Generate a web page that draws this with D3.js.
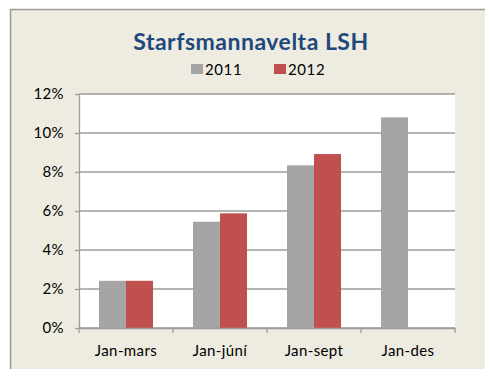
<!DOCTYPE html>
<html>
<head>
<meta charset="utf-8">
<script src="https://cdn.jsdelivr.net/npm/d3@7"></script>
<style>
  html, body { margin: 0; padding: 0; background: #ffffff; }
  svg { display: block; }
</style>
</head>
<body>
<script>
// Staff turnover at LSH, cumulative by period
const categories = ["Jan-mars", "Jan-júní", "Jan-sept", "Jan-des"];
const seriesNames = ["2011", "2012"];
const values2011 = [0.0242, 0.0545, 0.0834, 0.108];
const values2012 = [0.0242, 0.0588, 0.0892, null];
const yTicks = [0, 0.02, 0.04, 0.06, 0.08, 0.10, 0.12];
const colors = ["#a5a5a5", "#c0504d"];

const W = 485, H = 369;
const margin = { left: 79, right: 30, top: 94, bottom: 41 };
const font = "Lato, 'Open Sans', sans-serif";

const svg = d3.select("body").append("svg")
  .attr("width", W).attr("height", H);

// chart frame
svg.append("rect")
  .attr("x", 10.5).attr("y", 9.5)
  .attr("width", W + 10).attr("height", H + 10)
  .attr("fill", "#eeebe1").attr("stroke", "#9a9a9a").attr("stroke-width", 1.5);

const x0 = d3.scaleBand().domain(categories)
  .range([margin.left, W - margin.right]);
const x1 = d3.scaleBand().domain(seriesNames)
  .range([0, x0.bandwidth()]).paddingOuter(0.74).paddingInner(0);
const y = d3.scaleLinear().domain([0, 0.12])
  .range([H - margin.bottom, margin.top]);

// plot area
svg.append("rect")
  .attr("x", margin.left).attr("y", margin.top)
  .attr("width", W - margin.right - margin.left)
  .attr("height", H - margin.bottom - margin.top)
  .attr("fill", "#ffffff");

// gridlines
svg.append("g").selectAll("line").data(yTicks).join("line")
  .attr("x1", margin.left).attr("x2", W - margin.right)
  .attr("y1", d => y(d)).attr("y2", d => y(d))
  .attr("stroke", "#9c9c9c").attr("stroke-width", 1.3);

// bars
const data = categories.map((c, i) => ({ cat: c, vals: [values2011[i], values2012[i]] }));
const groups = svg.append("g").selectAll("g").data(data).join("g")
  .attr("transform", d => `translate(${x0(d.cat)},0)`);
groups.selectAll("rect")
  .data(d => d.vals.map((v, j) => ({ name: seriesNames[j], v, j })).filter(e => e.v != null))
  .join("rect")
  .attr("x", d => x1(d.name))
  .attr("width", x1.bandwidth())
  .attr("y", d => y(d.v))
  .attr("height", d => y(0) - y(d.v))
  .attr("fill", d => colors[d.j]);

// y axis
const yAxis = d3.axisLeft(y).tickValues(yTicks)
  .tickFormat(d3.format(".0%")).tickSize(4).tickSizeOuter(0);
const gy = svg.append("g").attr("transform", `translate(${margin.left},0)`).call(yAxis);
gy.select(".domain").attr("stroke", "#9c9c9c").attr("stroke-width", 1.3);
gy.selectAll(".tick line").attr("stroke", "#9c9c9c").attr("stroke-width", 1.3);
gy.selectAll("text").attr("x", -15)
  .style("font-family", font).style("letter-spacing", "0.4px")
  .style("font-size", "15px").attr("fill", "#000");

// x axis
const xAxis = d3.axisBottom(x0).tickSize(0).tickSizeOuter(0);
const gx = svg.append("g").attr("transform", `translate(0,${y(0)})`).call(xAxis);
gx.select(".domain").attr("stroke", "#9c9c9c").attr("stroke-width", 1.3);
gx.selectAll("text").attr("y", 17)
  .style("font-family", font).style("letter-spacing", "0.4px")
  .style("font-size", "15px").attr("fill", "#000");
// category separators
const seps = categories.map(c => x0(c)).concat([x0.range()[1]]);
svg.append("g").selectAll("line").data(seps).join("line")
  .attr("x1", d => d).attr("x2", d => d)
  .attr("y1", y(0)).attr("y2", y(0) + 5)
  .attr("stroke", "#9c9c9c").attr("stroke-width", 1.3);

// title
svg.append("text")
  .attr("x", 251).attr("y", 50)
  .attr("text-anchor", "middle")
  .style("font-family", font).style("letter-spacing", "0.5px")
  .style("font-weight", "bold").style("font-size", "23px")
  .attr("fill", "#1f497d")
  .text("Starfsmannavelta LSH");

// legend
const legendX = [191, 274];
const legend = svg.append("g").selectAll("g").data(seriesNames).join("g")
  .attr("transform", (d, i) => `translate(${legendX[i]},64)`);
legend.append("rect").attr("width", 12).attr("height", 10)
  .attr("fill", (d, i) => colors[i]);
legend.append("text").attr("x", 14).attr("y", 10.5)
  .style("font-family", font).style("letter-spacing", "0.6px")
  .style("font-size", "15px").attr("fill", "#000")
  .text(d => d);
</script>
</body>
</html>
